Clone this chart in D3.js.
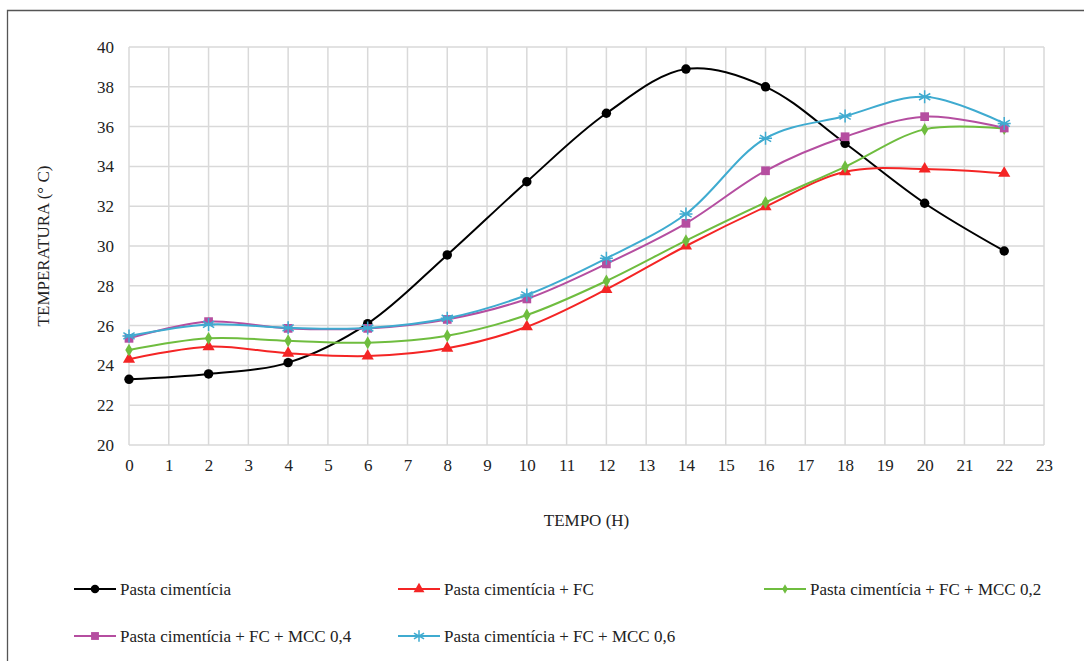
<!DOCTYPE html>
<html>
<head>
<meta charset="utf-8">
<script src="https://cdn.jsdelivr.net/npm/d3@7"></script>
<style>
  body { margin: 0; background: #fff; }
</style>
</head>
<body>
<div id="chart"></div>
<script>
// horas de medicao
var tempo = [0, 2, 4, 6, 8, 10, 12, 14, 16, 18, 20, 22];

// temperaturas (°C)
var pasta = [23.3, 23.57, 24.14, 26.1, 29.55, 33.23, 36.67, 38.89, 38.0, 35.16, 32.15, 29.75];
var pastaFC = [24.31, 24.94, 24.61, 24.47, 24.86, 25.94, 27.82, 30.0, 31.97, 33.73, 33.87, 33.65];
var pastaMcc02 = [24.77, 25.36, 25.24, 25.14, 25.49, 26.53, 28.24, 30.27, 32.19, 33.98, 35.86, 35.9];
var pastaMcc04 = [25.36, 26.2, 25.86, 25.86, 26.31, 27.34, 29.1, 31.14, 33.78, 35.49, 36.5, 35.93];
var pastaMcc06 = [25.48, 26.06, 25.89, 25.88, 26.37, 27.54, 29.38, 31.61, 35.41, 36.53, 37.5, 36.16];

var seriesNames = ["Pasta cimentícia", "Pasta cimentícia + FC", "Pasta cimentícia + FC + MCC 0,2",
  "Pasta cimentícia + FC + MCC 0,4", "Pasta cimentícia + FC + MCC 0,6"];
var seriesValues = [pasta, pastaFC, pastaMcc02, pastaMcc04, pastaMcc06];
var seriesColors = ["#000000", "#f42525", "#6fbd3f", "#b54ea0", "#3fabd0"];
var seriesMarkers = ["circle", "triangle", "diamond", "square", "star"];

var xTicks = d3.range(0, 24);
var yTicks = [20, 22, 24, 26, 28, 30, 32, 34, 36, 38, 40];

// lista de fontes com aspas nao funciona aqui, so o nome
var serif = "Liberation Serif";
var fs = 17;

var W = 1084, H = 661;
var margin = { top: 47, right: 40, bottom: 216, left: 129 };
var width = 1044 - margin.left;
var height = 445 - margin.top;

var svg = d3.select("#chart").append("svg")
  .attr("width", W)
  .attr("height", H);

// moldura (só topo e lado esquerdo aparecem)
svg.append("path")
  .attr("d", "M7.5," + H + "V10.5H" + W)
  .attr("fill", "none")
  .attr("stroke", "#555")
  .attr("stroke-width", 1.3);

var g = svg.append("g").attr("transform", "translate(" + margin.left + "," + margin.top + ")");

var x = d3.scaleLinear().domain([0, 23]).range([0, width]);
var y = d3.scaleLinear().domain([20, 40]).range([height, 0]);

// grade
g.append("g")
  .selectAll("line")
  .data(xTicks)
  .enter().append("line")
  .attr("x1", function (d) { return x(d); })
  .attr("x2", function (d) { return x(d); })
  .attr("y1", 0)
  .attr("y2", height)
  .attr("stroke", "#d9d9d9")
  .attr("stroke-width", 1.5);

g.append("g")
  .selectAll("line")
  .data(yTicks)
  .enter().append("line")
  .attr("x1", 0)
  .attr("x2", width)
  .attr("y1", function (d) { return y(d); })
  .attr("y2", function (d) { return y(d); })
  .attr("stroke", "#d9d9d9")
  .attr("stroke-width", 1.5);

// eixos (apenas rotulos)
var xAxis = g.append("g")
  .attr("transform", "translate(0," + height + ")")
  .call(d3.axisBottom(x).tickValues(xTicks).tickSize(0).tickPadding(14));
xAxis.select(".domain").remove();
xAxis.selectAll("text")
  .attr("font-family", serif)
  .attr("font-size", fs)
  .attr("fill", "#222");

var yAxis = g.append("g")
  .call(d3.axisLeft(y).tickValues(yTicks).tickSize(0).tickPadding(15));
yAxis.select(".domain").remove();
yAxis.selectAll("text")
  .attr("font-family", serif)
  .attr("font-size", fs)
  .attr("fill", "#222");

// titulos dos eixos
svg.append("text")
  .attr("transform", "translate(49," + (margin.top + height / 2) + ") rotate(-90)")
  .attr("text-anchor", "middle")
  .attr("font-family", serif)
  .attr("font-size", fs)
  .attr("fill", "#222")
  .text("TEMPERATURA (° C)");

svg.append("text")
  .attr("x", margin.left + width / 2)
  .attr("y", 526)
  .attr("text-anchor", "middle")
  .attr("font-family", serif)
  .attr("font-size", fs)
  .attr("fill", "#222")
  .text("TEMPO (H)");

// marcadores
var markerSymbols = {
  circle: d3.symbolCircle,
  triangle: d3.symbolTriangle,
  diamond: d3.symbolDiamond,
  square: d3.symbolSquare
};
function drawMarker(sel, type, color, s) {
  if (type === "star") {
    var r = 6.5 * s;
    var p = "";
    [30, 150].forEach(function (a) {
      var rad = a * Math.PI / 180;
      p += "M" + (-r * Math.cos(rad)) + "," + (-r * Math.sin(rad)) + "L" + (r * Math.cos(rad)) + "," + (r * Math.sin(rad));
    });
    p += "M0," + (-r) + "L0," + r + "M" + (-r) + ",0L" + r + ",0";
    sel.append("path").attr("d", p).attr("stroke", color).attr("stroke-width", 1.5).attr("fill", "none");
  } else {
    var size = { circle: 70, triangle: 64, diamond: 48, square: 76 }[type] * s * s;
    sel.append("path")
      .attr("d", d3.symbol().type(markerSymbols[type]).size(size)())
      .attr("fill", color);
  }
}

var line = d3.line()
  .x(function (d, i) { return x(tempo[i]); })
  .y(function (d) { return y(d); })
  .curve(d3.curveCatmullRom.alpha(0.5));

seriesValues.forEach(function (vals, k) {
  var color = seriesColors[k];
  g.append("path")
    .datum(vals)
    .attr("fill", "none")
    .attr("stroke", color)
    .attr("stroke-width", 2)
    .attr("d", line);

  g.append("g").selectAll("g")
    .data(vals)
    .enter().append("g")
    .attr("transform", function (d, i) { return "translate(" + x(tempo[i]) + "," + y(d) + ")"; })
    .each(function () { drawMarker(d3.select(this), seriesMarkers[k], color, 1); });
});

// legenda
var legendPos = [[74, 589], [398, 589], [764, 589], [74, 636], [398, 636]];
seriesNames.forEach(function (name, k) {
  var lg = svg.append("g").attr("transform", "translate(" + legendPos[k][0] + "," + legendPos[k][1] + ")");
  lg.append("line")
    .attr("x1", 0).attr("x2", 42)
    .attr("y1", 0).attr("y2", 0)
    .attr("stroke", seriesColors[k])
    .attr("stroke-width", 2);
  var m = lg.append("g").attr("transform", "translate(21,0)");
  drawMarker(m, seriesMarkers[k], seriesColors[k], k === 2 ? 0.75 : 0.9);
  lg.append("text")
    .attr("x", 46)
    .attr("y", 5.5)
    .attr("font-family", serif)
    .attr("font-size", fs)
    .attr("fill", "#222")
    .text(name);
});
</script>
</body>
</html>
